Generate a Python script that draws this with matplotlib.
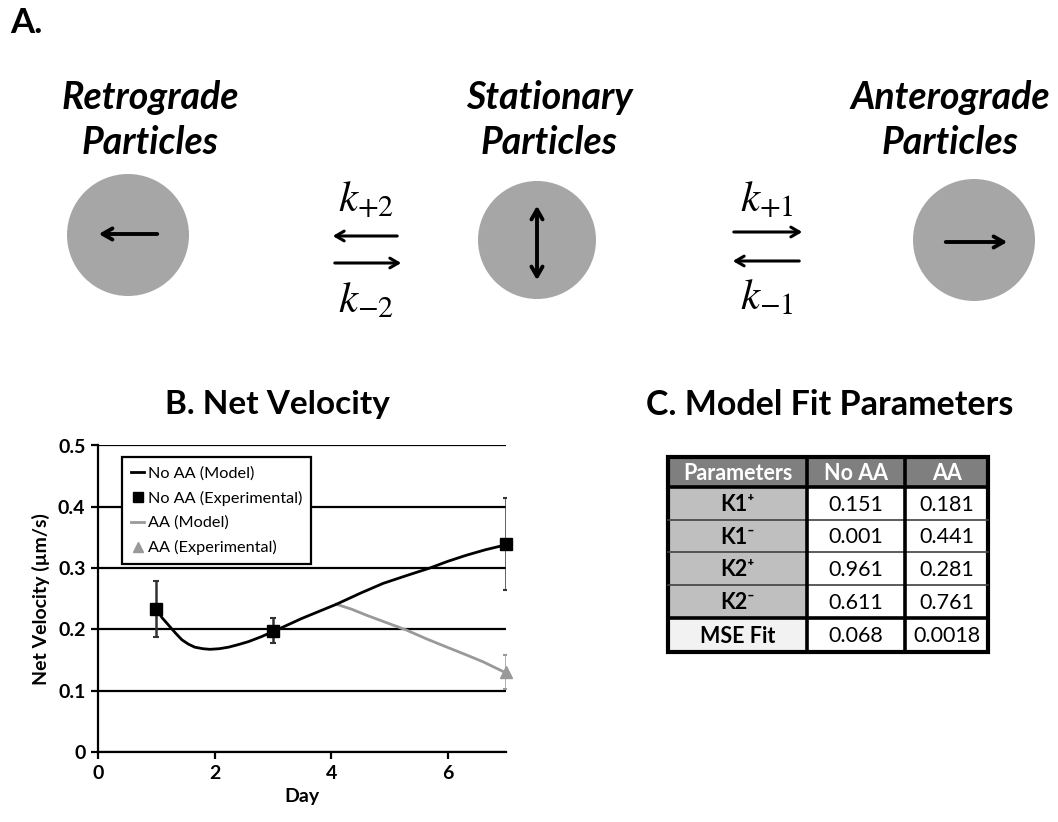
import matplotlib
matplotlib.use("Agg")
import matplotlib.pyplot as plt
from matplotlib.patches import Circle, Rectangle
from matplotlib.lines import Line2D

plt.rcParams['font.family'] = ['Lato', 'DejaVu Sans']
plt.rcParams['mathtext.fontset'] = 'stix'

# ---------------- data ----------------
# Panel B
exp_days = [1, 3, 7]
noaa_exp = [0.233, 0.198, 0.339]
noaa_err = [0.046, 0.020, 0.075]
aa_exp_day = [7]
aa_exp = [0.130]
aa_err = [0.028]

noaa_model_day = [1.0, 1.1, 1.21, 1.33, 1.44, 1.55, 1.66, 1.8, 1.92, 2.08, 2.24, 2.4, 2.58,
                  2.8, 3.04, 3.5, 4.09, 4.5, 4.89, 5.3, 5.69, 6.0, 6.32, 6.65, 7.0]
noaa_model_val = [0.233, 0.219, 0.207, 0.194, 0.183, 0.176, 0.171, 0.1685, 0.1675, 0.1685, 0.171,
                  0.175, 0.180, 0.188, 0.198, 0.218, 0.241, 0.259, 0.275, 0.288, 0.300, 0.311,
                  0.321, 0.330, 0.338]
aa_model_day = [4.09, 4.35, 4.61, 4.95, 5.29, 5.65, 6.04, 6.33, 6.61, 7.0]
aa_model_val = [0.241, 0.233, 0.223, 0.211, 0.199, 0.184, 0.169, 0.158, 0.147, 0.129]

x_ticks = [0, 2, 4, 6]
y_ticks = [0, 0.1, 0.2, 0.3, 0.4, 0.5]
y_tick_labels = ['0', '0.1', '0.2', '0.3', '0.4', '0.5']

# Panel C
table_header = ['Parameters', 'No AA', 'AA']
table_rows = ['K1\u207a', 'K1\u207b', 'K2\u207a', 'K2\u207b', 'MSE Fit']
table_noaa = ['0.151', '0.001', '0.961', '0.611', '0.068']
table_aa = ['0.181', '0.441', '0.281', '0.761', '0.0018']

# Panel A
particle_names = ['Retrograde\nParticles', 'Stationary\nParticles', 'Anterograde\nParticles']
rate_labels = [r'$k_{+2}$', r'$k_{-2}$', r'$k_{+1}$', r'$k_{-1}$']

W, H = 1058, 822
fig = plt.figure(figsize=(W / 100, H / 100), dpi=100)

# overlay in pixel coordinates
ov = fig.add_axes([0, 0, 1, 1])
ov.set_xlim(0, W)
ov.set_ylim(H, 0)
ov.axis('off')

grey = '#a6a6a6'
ov.text(10, 23, 'A.', fontsize=25, fontweight='bold', va='center', ha='left')

name_x = [150, 549, 950]
for nx, name in zip(name_x, particle_names):
    ov.text(nx, 120, name, fontsize=27, fontweight='bold', fontstyle='italic',
            ha='center', va='center', linespacing=1.33)

circ = [(128, 235, 61), (537, 240, 59), (974, 240, 61)]
for cx, cy, r in circ:
    ov.add_patch(Circle((cx, cy), r, color=grey, lw=0))

aprops = dict(arrowstyle='->,head_length=0.7,head_width=0.4', lw=2.8, color='black')
# inside circles
ov.annotate('', xy=(96, 234), xytext=(160, 234), arrowprops=aprops)
ov.annotate('', xy=(537, 203), xytext=(537, 283),
            arrowprops=dict(arrowstyle='<->,head_length=0.7,head_width=0.4', lw=2.8, color='black'))
ov.annotate('', xy=(1010, 242), xytext=(943, 242), arrowprops=aprops)

thin = dict(arrowstyle='->,head_length=0.6,head_width=0.35', lw=2.2, color='black')
# left exchange arrows
ov.annotate('', xy=(330, 236), xytext=(400, 236), arrowprops=thin)
ov.annotate('', xy=(404, 263), xytext=(332, 263), arrowprops=thin)
# right exchange arrows
ov.annotate('', xy=(805, 232), xytext=(731, 232), arrowprops=thin)
ov.annotate('', xy=(730, 261), xytext=(802, 261), arrowprops=thin)

ov.text(366, 200, rate_labels[0], fontsize=31, ha='center', va='center')
ov.text(366, 300, rate_labels[1], fontsize=31, ha='center', va='center')
ov.text(767, 200, rate_labels[2], fontsize=31, ha='center', va='center')
ov.text(767, 297, rate_labels[3], fontsize=31, ha='center', va='center')

# ---------------- Panel B ----------------
x0, x1 = 98, 506
y0, y1 = 752, 445.5
ax = fig.add_axes([x0 / W, (H - y0) / H, (x1 - x0) / W, (y0 - y1) / H])
ax.set_xlim(0, 7)
ax.set_ylim(0, 0.5)
for yt in y_ticks:
    ax.axhline(yt, color='black', lw=1.6, zorder=1)
ax.spines['top'].set_visible(False)
ax.spines['right'].set_visible(False)
ax.spines['left'].set_linewidth(1.6)
ax.spines['bottom'].set_linewidth(1.6)
ax.set_xticks(x_ticks)
ax.set_yticks(y_ticks)
ax.set_yticklabels(y_tick_labels)
ax.tick_params(direction='out', length=5, width=1.6, labelsize=14, pad=4)
for lab in ax.get_xticklabels() + ax.get_yticklabels():
    lab.set_fontweight('bold')
ax.set_xlabel('Day', fontsize=14, fontweight='bold', labelpad=5)
ax.set_ylabel('Net Velocity (\u00b5m/s)', fontsize=14, fontweight='bold', labelpad=6)
ov.text(277, 404, 'B. Net Velocity', fontsize=24, fontweight='bold', ha='center', va='center')

ax.plot(aa_model_day, aa_model_val, color='#999999', lw=2.0, zorder=3)
ax.plot(noaa_model_day, noaa_model_val, color='black', lw=2.0, zorder=4)
ax.errorbar(exp_days, noaa_exp, yerr=noaa_err, fmt='none', ecolor='#333333', elinewidth=1.8,
            capsize=2, capthick=1.5, zorder=5)
ax.errorbar(aa_exp_day, aa_exp, yerr=aa_err, fmt='none', ecolor='#999999', elinewidth=1.8,
            capsize=2, capthick=1.5, zorder=5)
ax.plot(exp_days, noaa_exp, 's', color='black', ms=9, zorder=6, clip_on=False)
ax.plot(aa_exp_day, aa_exp, '^', color='#999999', ms=9, zorder=6, clip_on=False)

handles = [Line2D([], [], color='black', lw=2),
           Line2D([], [], ls='none', marker='s', color='black', ms=7),
           Line2D([], [], color='#999999', lw=2),
           Line2D([], [], ls='none', marker='^', color='#999999', ms=7)]
labels = ['No AA (Model)', 'No AA (Experimental)', 'AA (Model)', 'AA (Experimental)']
leg = ax.legend(handles, labels, loc='upper left', bbox_to_anchor=(0.04, 0.988),
                fontsize=11.7, frameon=True, fancybox=False, edgecolor='black',
                handlelength=0.8, handletextpad=0.2, labelspacing=0.62, borderpad=0.55,
                framealpha=1)
leg.get_frame().set_linewidth(1.6)
leg.set_zorder(10)

# ---------------- Panel C ----------------
ov.text(830, 405, 'C. Model Fit Parameters', fontsize=24.5, fontweight='bold', ha='center', va='center')
col_x = [668, 807, 905, 988]
row_y = [457, 487, 520, 552, 585, 618, 652]
cols = [table_header[0], table_header[1], table_header[2]]
# header
for j in range(3):
    ov.add_patch(Rectangle((col_x[j], row_y[0]), col_x[j + 1] - col_x[j], row_y[1] - row_y[0],
                           facecolor='#7f7f7f', edgecolor='none'))
    ov.text((col_x[j] + col_x[j + 1]) / 2, (row_y[0] + row_y[1]) / 2 + 1, cols[j],
            color='white', fontsize=15.5, fontweight='bold', ha='center', va='center')
for i, (rn, a, b) in enumerate(zip(table_rows, table_noaa, table_aa)):
    top, bot = row_y[i + 1], row_y[i + 2]
    fc = '#f2f2f2' if rn == 'MSE Fit' else '#bfbfbf'
    ov.add_patch(Rectangle((col_x[0], top), col_x[1] - col_x[0], bot - top, facecolor=fc, edgecolor='none'))
    cy = (top + bot) / 2 + 1
    ov.text((col_x[0] + col_x[1]) / 2, cy, rn, fontsize=15.5, fontweight='bold', ha='center', va='center')
    ov.text((col_x[1] + col_x[2]) / 2, cy, a, fontsize=15.5, ha='center', va='center')
    ov.text((col_x[2] + col_x[3]) / 2, cy, b, fontsize=15.5, ha='center', va='center')
# borders
for y in row_y[2:5]:
    ov.plot([col_x[0], col_x[3]], [y, y], color='#404040', lw=1.2)
for y in [row_y[1], row_y[5]]:
    ov.plot([col_x[0], col_x[3]], [y, y], color='black', lw=2.6)
for x in col_x[1:3]:
    ov.plot([x, x], [row_y[0], row_y[-1]], color='black', lw=2.6)
ov.add_patch(Rectangle((col_x[0], row_y[0]), col_x[3] - col_x[0], row_y[-1] - row_y[0],
                       facecolor='none', edgecolor='black', lw=3))

fig.savefig('out.png', dpi=100)
